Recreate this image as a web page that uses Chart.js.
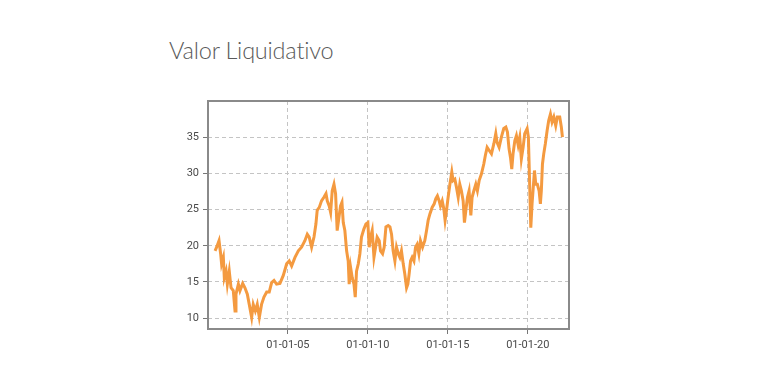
<!DOCTYPE html>
<html>
<head>
<meta charset="utf-8">
<script src="https://cdn.jsdelivr.net/npm/chart.js@4/dist/chart.umd.min.js"></script>
<style>
  html, body { margin: 0; padding: 0; background: #ffffff; }
  #wrap { position: relative; width: 782px; height: 374px; overflow: hidden; }
  #title { position: absolute; left: 169px; top: 36px; font-family: 'Lato', sans-serif; font-weight: 300; font-size: 23.5px; color: #5a5a5a; letter-spacing: -0.2px; white-space: nowrap; }
  canvas { position: absolute; left: 0; top: 0; }
</style>
</head>
<body>
<div id="wrap">
  <div id="title">Valor Liquidativo</div>
  <canvas id="c" width="782" height="374"></canvas>
</div>
<script>
// Dates as decimal years
const years = [
  2000.44, 2000.54, 2000.69, 2000.79, 2000.85, 2000.96, 2001.02, 2001.13, 2001.21, 2001.33,
  2001.44, 2001.58, 2001.69, 2001.75, 2001.90, 2002.00, 2002.17, 2002.31, 2002.46, 2002.58,
  2002.73, 2002.83, 2002.96, 2003.08, 2003.21, 2003.35, 2003.50, 2003.67, 2003.83, 2003.98,
  2004.13, 2004.29, 2004.50, 2004.71, 2004.92, 2005.08, 2005.23, 2005.44, 2005.65, 2005.85,
  2006.06, 2006.21, 2006.33, 2006.48, 2006.63, 2006.75, 2006.83, 2006.96, 2007.10, 2007.25,
  2007.38, 2007.46, 2007.58, 2007.67, 2007.77, 2007.88, 2007.98, 2008.08, 2008.19, 2008.29,
  2008.38, 2008.46, 2008.56, 2008.67, 2008.77, 2008.83, 2008.92, 2009.02, 2009.13, 2009.21,
  2009.29, 2009.40, 2009.50, 2009.60, 2009.75, 2009.88, 2010.00, 2010.08, 2010.17, 2010.27,
  2010.38, 2010.48, 2010.58, 2010.71, 2010.79, 2010.92, 2011.02, 2011.13, 2011.27, 2011.38,
  2011.48, 2011.58, 2011.69, 2011.79, 2011.90, 2012.00, 2012.10, 2012.21, 2012.31, 2012.42,
  2012.50, 2012.58, 2012.67, 2012.77, 2012.88, 2012.98, 2013.08, 2013.19, 2013.29, 2013.42,
  2013.56, 2013.67, 2013.77, 2013.88, 2014.02, 2014.15, 2014.25, 2014.35, 2014.46, 2014.54,
  2014.65, 2014.75, 2014.83, 2014.92, 2015.02, 2015.13, 2015.25, 2015.33, 2015.44, 2015.54,
  2015.65, 2015.75, 2015.85, 2015.96, 2016.04, 2016.13, 2016.23, 2016.33, 2016.44, 2016.52,
  2016.63, 2016.75, 2016.85, 2016.96, 2017.10, 2017.25, 2017.35, 2017.46, 2017.58, 2017.73,
  2017.88, 2018.00, 2018.08, 2018.21, 2018.35, 2018.50, 2018.63, 2018.73, 2018.83, 2018.92,
  2019.00, 2019.08, 2019.19, 2019.29, 2019.40, 2019.50, 2019.60, 2019.71, 2019.81, 2019.96,
  2020.04, 2020.13, 2020.19, 2020.27, 2020.33, 2020.42, 2020.50, 2020.60, 2020.71, 2020.79,
  2020.85, 2020.92, 2021.00, 2021.10, 2021.21, 2021.31, 2021.42, 2021.52, 2021.63, 2021.75,
  2021.85, 2022.00, 2022.10, 2022.17
];
const navValues = [
  19.3, 19.8, 20.7, 18.9, 17.5, 18.4, 15.6, 16.5, 14.7, 16.5,
  14.2, 13.8, 11.0, 13.3, 14.7, 13.8, 14.8, 14.2, 13.3, 11.9,
  10.1, 11.9, 11.0, 11.9, 10.1, 11.9, 12.9, 13.6, 13.6, 14.9,
  15.2, 14.7, 14.8, 15.9, 17.5, 17.9, 17.2, 18.4, 19.3, 19.8,
  20.7, 21.6, 21.2, 19.8, 21.2, 23.0, 24.9, 25.3, 26.2, 26.7,
  27.2, 26.2, 25.5, 24.6, 27.6, 28.5, 27.2, 22.1, 23.9, 25.5,
  26.0, 23.2, 22.1, 19.3, 17.9, 14.7, 17.0, 15.6, 14.7, 12.9,
  16.5, 17.5, 18.9, 21.2, 22.3, 23.0, 23.2, 19.8, 21.2, 22.1,
  18.4, 19.8, 21.2, 20.7, 19.3, 18.9, 19.8, 22.6, 22.8, 22.6,
  21.6, 19.3, 17.9, 19.8, 18.9, 18.4, 19.3, 17.5, 16.1, 14.2,
  14.7, 16.1, 17.9, 18.4, 17.9, 19.8, 20.2, 18.9, 20.7, 19.8,
  20.7, 22.1, 23.5, 24.4, 25.3, 25.8, 26.5, 26.9, 26.2, 25.5,
  26.2, 25.1, 23.5, 24.9, 26.7, 28.5, 30.2, 29.0, 29.2, 28.1,
  26.7, 28.5, 27.6, 26.2, 23.2, 24.9, 26.7, 27.6, 24.2, 26.7,
  27.6, 28.5, 27.6, 29.0, 29.9, 31.3, 32.5, 33.6, 33.2, 32.7,
  34.1, 35.5, 34.3, 33.6, 35.0, 36.2, 36.4, 35.7, 33.4, 32.2,
  30.6, 32.7, 34.5, 35.2, 33.9, 35.0, 32.0, 33.6, 35.5, 36.2,
  35.0, 27.6, 22.5, 25.8, 27.6, 30.4, 28.5, 28.5, 27.6, 25.8,
  27.6, 31.3, 32.7, 34.1, 35.9, 37.3, 38.2, 37.1, 37.8, 36.6,
  37.8, 37.8, 36.4, 35.0
];
const yTickValues = [10, 15, 20, 25, 30, 35];
const xTickValues = [2005, 2010, 2015, 2020];
const xTickLabels = ['01-01-05', '01-01-10', '01-01-15', '01-01-20'];

const points = years.map((x, i) => ({ x: x, y: navValues[i] }));

const framePlugin = {
  id: 'frame',
  afterDraw(chart) {
    const a = chart.chartArea, ctx = chart.ctx;
    ctx.save();
    ctx.strokeStyle = '#8a8a8a';
    ctx.lineWidth = 2;
    ctx.strokeRect(a.left, a.top, a.right - a.left, a.bottom - a.top);
    ctx.restore();
  }
};

new Chart(document.getElementById('c'), {
  type: 'line',
  data: {
    datasets: [{
      data: points,
      borderColor: '#f49a40',
      borderWidth: 3,
      pointRadius: 0,
      tension: 0,
      fill: false
    }]
  },
  options: {
    responsive: false,
    animation: false,
    layout: { padding: { top: 101, right: 213, bottom: 0, left: 0 } },
    plugins: { legend: { display: false }, tooltip: { enabled: false }, title: { display: false } },
    scales: {
      x: {
        type: 'linear',
        min: 2000.0,
        max: 2022.58,
        afterBuildTicks(scale) { scale.ticks = xTickValues.map(v => ({ value: v })); },
        afterFit(scale) { scale.height = 45; },
        ticks: {
          autoSkip: false,
          maxRotation: 0,
          padding: 5,
          color: '#4a4a4a',
          font: { family: 'Roboto', size: 11 },
          callback(value) { const i = xTickValues.indexOf(value); return i >= 0 ? xTickLabels[i] : ''; }
        },
        grid: { color: '#c4c4c4', lineWidth: 1, tickLength: 5, tickColor: '#777777', tickBorderDash: [] },
        border: { display: false, dash: [4, 3] }
      },
      y: {
        type: 'linear',
        min: 8.5,
        max: 40,
        afterBuildTicks(scale) { scale.ticks = yTickValues.map(v => ({ value: v })); },
        afterFit(scale) { scale.width = 208; },
        ticks: {
          autoSkip: false,
          padding: 4,
          color: '#4a4a4a',
          font: { family: 'Roboto', size: 11 }
        },
        grid: { color: '#c4c4c4', lineWidth: 1, tickLength: 5, tickColor: '#777777', tickBorderDash: [] },
        border: { display: false, dash: [4, 3] }
      }
    }
  },
  plugins: [framePlugin]
});
</script>
</body>
</html>
